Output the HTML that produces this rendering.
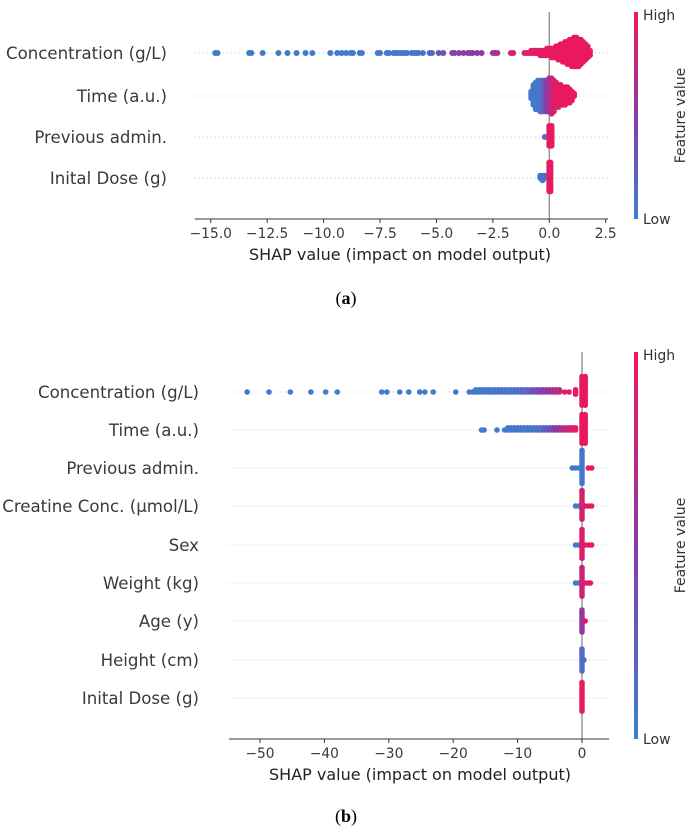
<!DOCTYPE html>
<html><head><meta charset="utf-8">
<style>
html,body{margin:0;padding:0;background:#fff;width:692px;height:833px;overflow:hidden}
svg{display:block}
.lbl{font-family:"DejaVu Sans","Liberation Sans",sans-serif;fill:#3a3a3a;font-size:16.6px}
.xt{font-family:"DejaVu Sans","Liberation Sans",sans-serif;fill:#222;font-size:16px}
.tick{font-family:"DejaVu Sans","Liberation Sans",sans-serif;fill:#3a3a3a;font-size:13.8px}
.cbl{font-family:"DejaVu Sans","Liberation Sans",sans-serif;fill:#333;font-size:14px}
.cap{font-family:"Liberation Serif",serif;font-size:18px;fill:#000}
</style></head>
<body>
<svg id="svg" width="692" height="833" viewBox="0 0 692 833" xmlns="http://www.w3.org/2000/svg">
<defs>
<linearGradient id="cb" x1="0" y1="1" x2="0" y2="0">
<stop offset="0" stop-color="#3b80d0"/><stop offset="0.5" stop-color="#8a3aa8"/><stop offset="1" stop-color="#f0175a"/>
</linearGradient>
</defs>
<g id="chartA"></g>
<g id="chartB"></g>
<text class="cap" x="346" y="304" text-anchor="middle">(<tspan font-weight="bold">a</tspan>)</text>
<text class="cap" x="346" y="822" text-anchor="middle">(<tspan font-weight="bold">b</tspan>)</text>
</svg>
<script>
// ---------- Chart A data ----------
const aFeatures = ["Concentration (g/L)","Time (a.u.)","Previous admin.","Inital Dose (g)"];
const aTicks = [-15,-12.5,-10,-7.5,-5,-2.5,0,2.5];
const aTickLabels = ["\u221215.0","\u221212.5","\u221210.0","\u22127.5","\u22125.0","\u22122.5","0.0","2.5"];
const aConcShap = [-14.8,-14.7,-13.3,-13.2,-12.7,-12.0,-11.6,-11.2,-10.8,-10.5,-9.7,-9.4,-9.2,-9.0,-8.8,-8.7,-8.4,-8.3,-7.6,-7.5,-7.2,-7.1,-6.9,-6.8,-6.7,-6.6,-6.5,-6.4,-6.3,-6.1,-6.0,-5.9,-5.8,-5.6,-5.3,-5.2,-4.9,-4.7,-4.3,-4.2,-4.0,-3.8,-3.6,-3.5,-3.4,-3.2,-3.0,-2.5,-2.4,-2.3,-1.7,-1.6,-1.1,-1.0,-0.9,-0.8,-0.7,-0.6,-0.5,-0.4,-0.3,-0.2,-0.1,0.0,0.1,0.2,0.3,0.4,0.5,0.6,0.7,0.8,0.9,1.0,1.1,1.2,1.3,1.4,1.5,1.6,1.7,1.8];
const aConcCount = [1,1,1,1,1,1,1,1,1,1,1,1,1,1,1,1,1,1,1,1,1,1,1,1,1,1,1,1,1,1,1,1,1,1,1,1,1,1,1,1,1,1,1,1,1,1,1,1,1,1,1,1,1,1,1,2,2,2,2,3,3,3,4,4,5,5,6,7,8,9,10,11,12,13,14,14,13,12,10,8,6,3];
const aConcFv = [0.03,0.03,0.03,0.03,0.03,0.03,0.03,0.03,0.03,0.03,0.03,0.03,0.03,0.03,0.03,0.03,0.03,0.03,0.04,0.04,0.05,0.05,0.05,0.05,0.06,0.06,0.06,0.07,0.07,0.08,0.08,0.09,0.1,0.12,0.15,0.18,0.3,0.35,0.4,0.42,0.45,0.48,0.5,0.5,0.52,0.55,0.55,0.6,0.62,0.65,0.85,0.85,0.9,0.9,0.9,0.92,0.92,0.92,0.93,0.93,0.94,0.94,0.95,0.96,0.97,0.97,0.97,0.97,0.97,0.97,0.97,0.97,0.97,0.97,0.97,0.97,0.97,0.97,0.97,0.97,0.97,0.97];
const aTimeShap = [-0.8,-0.7,-0.6,-0.5,-0.4,-0.3,-0.2,-0.1,0.0,0.1,0.2,0.3,0.4,0.5,0.6,0.7,0.8,0.9,1.0,1.1];
const aTimeCount = [4,10,13,14,15,15,15,15,16,17,15,12,11,10,9,9,8,7,5,2];
const aTimeFv = [0.05,0.05,0.05,0.06,0.08,0.15,0.3,0.45,0.6,0.75,0.85,0.92,0.95,0.96,0.97,0.97,0.97,0.97,0.97,0.97];
const aPrevShap = [-0.2,0.0,0.1];
const aPrevCount = [1,10,10];
const aPrevFv = [0.1,0.95,0.95];
const aDoseShap = [-0.4,-0.3,-0.2,0.0,0.05];
const aDoseCount = [2,3,2,14,14];
const aDoseFv = [0.1,0.1,0.1,0.95,0.95];

// ---------- Chart B data ----------
const bFeatures = ["Concentration (g/L)","Time (a.u.)","Previous admin.","Creatine Conc. (\u03bcmol/L)","Sex","Weight (kg)","Age (y)","Height (cm)","Inital Dose (g)"];
const bTicks = [-50,-40,-30,-20,-10,0];
const bTickLabels = ["\u221250","\u221240","\u221230","\u221220","\u221210","0"];
const bConcShap = [-52,-48.6,-45.3,-42.1,-39.8,-38.0,-31.1,-30.3,-28.3,-26.9,-25.2,-24.4,-23.1,-19.6,-17.5,-17,-16.5,-16,-15.5,-15,-14.5,-14,-13.5,-13,-12.5,-12,-11.5,-11,-10.5,-10,-9.5,-9,-8.5,-8,-7.5,-7,-6.5,-6,-5.5,-5,-4.5,-4,-3.5,-2.7,-2.0,-1.0,0,0.5];
const bConcCount = [1,1,1,1,1,1,1,1,1,1,1,1,1,1,1,1,2,2,2,2,2,2,2,2,2,2,2,2,2,2,2,2,2,2,2,2,2,2,2,2,2,2,2,1,1,3,14,14];
const bConcFv = [0.03,0.03,0.03,0.03,0.03,0.03,0.03,0.03,0.03,0.03,0.03,0.03,0.03,0.04,0.05,0.05,0.05,0.05,0.05,0.05,0.06,0.06,0.06,0.07,0.07,0.08,0.08,0.09,0.1,0.12,0.15,0.18,0.22,0.27,0.32,0.38,0.44,0.5,0.55,0.6,0.65,0.7,0.75,0.92,0.92,0.95,0.97,0.97];
const bTimeShap = [-15.6,-15.2,-13.2,-12.0,-11.5,-11,-10.5,-10,-9.5,-9,-8.5,-8,-7.5,-7,-6.5,-6,-5.5,-5,-4.5,-4,-3.5,-3,-2.5,-2,-1.5,-1,0,0.5];
const bTimeCount = [1,1,1,1,2,2,2,2,2,2,2,2,2,2,2,2,2,2,2,2,2,2,2,2,2,2,14,14];
const bTimeFv = [0.03,0.03,0.03,0.04,0.05,0.05,0.05,0.05,0.05,0.06,0.06,0.07,0.08,0.1,0.13,0.18,0.25,0.33,0.42,0.5,0.6,0.68,0.75,0.85,0.9,0.93,0.97,0.97];
const bPrevShap = [-1.5,-1,-0.5,0,1,1.5];
const bPrevCount = [1,1,1,16,1,1];
const bPrevFv = [0.05,0.05,0.05,0.05,0.97,0.97];
const bCreatShap = [-1,-0.5,0,0.5,1,1.5];
const bCreatCount = [1,1,14,1,1,1];
const bCreatFv = [0.05,0.05,0.85,0.97,0.97,0.97];
const bSexShap = [-1,-0.5,0,0.5,1,1.5];
const bSexCount = [1,1,14,1,1,1];
const bSexFv = [0.05,0.05,0.9,0.97,0.97,0.97];
const bWeightShap = [-1,-0.5,0,0.5,1,1.3];
const bWeightCount = [1,1,14,1,1,1];
const bWeightFv = [0.05,0.05,0.82,0.97,0.97,0.97];
const bAgeShap = [0,0.5];
const bAgeCount = [11,1];
const bAgeFv = [0.55,0.97];
const bHeightShap = [0,0.3];
const bHeightCount = [11,1];
const bHeightFv = [0.15,0.15];
const bDoseShap = [0];
const bDoseCount = [14];
const bDoseFv = [0.96];

const NS = "http://www.w3.org/2000/svg";
function mk(tag, attrs, parent){
  const e = document.createElementNS(NS, tag);
  for (const k in attrs) e.setAttribute(k, attrs[k]);
  parent.appendChild(e);
  return e;
}
function lerp(a,b,t){return a+(b-a)*t;}
function color(fv){
  const c0=[59,128,208], c1=[138,58,168], c2=[240,23,90];
  let a,b,t;
  if (fv<0.5){a=c0;b=c1;t=fv/0.5;} else {a=c1;b=c2;t=(fv-0.5)/0.5;}
  return "rgb("+Math.round(lerp(a[0],b[0],t))+","+Math.round(lerp(a[1],b[1],t))+","+Math.round(lerp(a[2],b[2],t))+")";
}

function drawChart(g, cfg){
  const x = v => cfg.x0 + v*cfg.pxPerUnit;
  cfg.features.forEach((f,i)=>{
    const y = cfg.rows[i];
    const gl = mk("line",{x1:cfg.left,x2:cfg.right,y1:y,y2:y,stroke:"#ccc","stroke-width":1,"stroke-dasharray":"1,3"},g);
    
    
    const t = mk("text",{x:cfg.labelX,y:y+6,"text-anchor":"end",class:"lbl"},g);
    t.textContent = f;
    
    
  });
  const zl = mk("line",{x1:x(0),x2:x(0),y1:cfg.top,y2:cfg.axisY,stroke:"#999","stroke-width":1.5},g);
  
  
  cfg.series.forEach((s,i)=>{
    const y0 = cfg.rows[i];
    const sg = mk("g",{},g);
    
    
    s.shap.forEach((v,j)=>{
      const n = s.count[j];
      for (let k=0;k<n;k++){
        const off = (k%2===0?1:-1)*Math.ceil(k/2)*cfg.step;
        const c = mk("circle",{cx:x(v),cy:y0+off,r:cfg.r,fill:color(s.fv[j])},sg);
        
        
      }
    });
  });
  const ax = mk("line",{x1:cfg.left,x2:cfg.right,y1:cfg.axisY,y2:cfg.axisY,stroke:"#333","stroke-width":1},g);
  
  
  cfg.ticks.forEach((tv,i)=>{
    const tk = mk("line",{x1:x(tv),x2:x(tv),y1:cfg.axisY,y2:cfg.axisY+4,stroke:"#333","stroke-width":1},g);
    
    
    const tl = mk("text",{x:x(tv),y:cfg.axisY+19,"text-anchor":"middle",class:"tick"},g);
    tl.textContent = cfg.tickLabels[i];
    
    
  });
  const xt = mk("text",{x:cfg.xTitleX,y:cfg.axisY+41,"text-anchor":"middle",class:"xt"},g);
  xt.textContent = "SHAP value (impact on model output)";
  
  
  const cb = mk("rect",{x:634,y:cfg.top,width:4,height:cfg.axisY-cfg.top,fill:"url(#cb)"},g);
  
  
  const hi = mk("text",{x:643,y:cfg.top+8,class:"cbl"},g);
  hi.textContent="High";
  
  
  const lo = mk("text",{x:643,y:cfg.axisY+5,class:"cbl"},g);
  lo.textContent="Low";
  
  
  const cy = (cfg.top+cfg.axisY)/2;
  const fvt = mk("text",{x:685,y:cy,"text-anchor":"middle",class:"cbl",transform:"rotate(-90 685 "+cy+")"},g);
  fvt.textContent="Feature value";
  
  
}

drawChart(document.getElementById("chartA"),{
  features:aFeatures, rows:[53,96,137,178], ticks:aTicks, tickLabels:aTickLabels,
  x0:549.3, pxPerUnit:22.57, left:195, right:608, top:12, axisY:219, labelX:167, xTitleX:400,
  r:3, step:2.2,
  series:[
    {shap:aConcShap,count:aConcCount,fv:aConcFv},
    {shap:aTimeShap,count:aTimeCount,fv:aTimeFv},
    {shap:aPrevShap,count:aPrevCount,fv:aPrevFv},
    {shap:aDoseShap,count:aDoseCount,fv:aDoseFv}
  ]
});
drawChart(document.getElementById("chartB"),{
  features:bFeatures, rows:[392,430,468,506,545,583,621,660,698], ticks:bTicks, tickLabels:bTickLabels,
  x0:582, pxPerUnit:6.44, left:229, right:609, top:352, axisY:739, labelX:199, xTitleX:420,
  r:2.8, step:2.2,
  series:[
    {shap:bConcShap,count:bConcCount,fv:bConcFv},
    {shap:bTimeShap,count:bTimeCount,fv:bTimeFv},
    {shap:bPrevShap,count:bPrevCount,fv:bPrevFv},
    {shap:bCreatShap,count:bCreatCount,fv:bCreatFv},
    {shap:bSexShap,count:bSexCount,fv:bSexFv},
    {shap:bWeightShap,count:bWeightCount,fv:bWeightFv},
    {shap:bAgeShap,count:bAgeCount,fv:bAgeFv},
    {shap:bHeightShap,count:bHeightCount,fv:bHeightFv},
    {shap:bDoseShap,count:bDoseCount,fv:bDoseFv}
  ]
});
</script>
</body></html>
